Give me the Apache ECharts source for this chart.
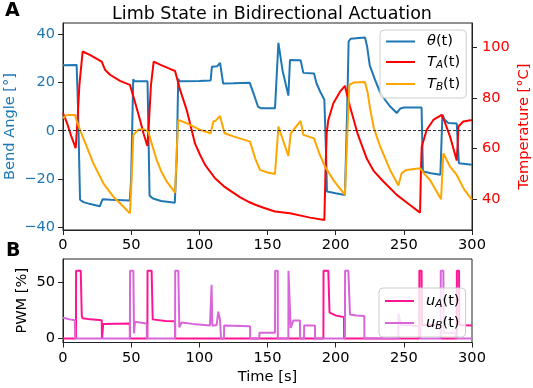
<!DOCTYPE html>
<html>
<head>
<meta charset="utf-8">
<script src="https://cdn.jsdelivr.net/npm/echarts@6/dist/echarts.min.js"></script>
<style>
    html,body{margin:0;padding:0;background:#fff;}
    #container{width:533px;height:388px;}
</style>
</head>
<body>
<div id="container"></div>
<script>
// time [s], value pairs
var thetaData = [[0,27],[10,27.2],[11,10],[12.5,-28.5],[15,-29.5],[20,-30.3],[27,-31.2],[28,-31.3],[29,-28.3],[35,-28.5],[49,-28.8],[50,-20],[51.5,21.3],[52.5,20.4],[62,20.4],[63.5,-26.8],[66,-28],[72,-29],[82,-29.7],[83.5,-10],[84.5,21.5],[85.5,20.4],[100,20.5],[108.3,20.8],[109.2,26.4],[113,26.6],[115.2,28],[117.5,19.5],[125,19.6],[137,19.8],[140,15],[143,10],[145,9.3],[155.5,9.3],[158,36.3],[161,25],[165.3,14.5],[166.5,29.2],[174.3,29.1],[176.3,23.9],[184.1,23.6],[186,19.5],[188.5,16.3],[191.7,12.8],[193,-10],[193.6,-25.1],[200,-25.8],[206.8,-26.5],[208.5,10],[209.5,36.9],[211,38],[221.5,38.5],[223,35],[225,27],[228.9,21],[232.5,16],[236.2,12.8],[240,10],[244.8,7.3],[246,6.8],[247.5,9.2],[250,9.6],[263,9.6],[264,-16.8],[270,-17.6],[276.8,-18.2],[278.3,6.6],[280,4.5],[282.6,3.2],[288.8,3],[290.4,-13.4],[300,-14]];
var tempAData = [[0,74],[3,70],[6,65],[9.3,60.1],[10.5,70],[12,85],[14.4,98.4],[20,97],[28.4,94.4],[30.8,91.2],[34.5,89.2],[41.8,86.8],[49.1,85.2],[50.4,84.5],[53,78],[56.5,71.3],[59,66],[61.9,61],[63,70],[64.5,85],[66.5,94.4],[72,93],[78.5,91.5],[82.2,90.7],[86,83],[90.7,75.3],[96.8,62],[100.5,57.5],[104.2,53.5],[111.5,48.2],[118,45],[123.7,42.9],[130,40.6],[135.9,38.9],[142,37.5],[148.2,36.3],[155.5,35],[166.5,34.3],[181.2,32.6],[191.7,31.7],[192.5,50],[193.4,66],[194.6,71.3],[198.3,77.9],[203.2,82.5],[206.8,84.8],[208.5,81],[210.5,76.6],[216,66],[222.8,56],[228,51],[235,46.9],[244.8,41.6],[254.5,37.6],[261.9,34.6],[262.5,50],[263.1,60.7],[266.8,67.4],[271.6,71.3],[277.8,73.3],[280,70.5],[283.9,64.7],[288.8,55.2],[289.5,62],[290,68.7],[293.6,70.7],[300,71.3]];
var tempBData = [[0,72],[2,73],[4,73.3],[8.8,73.3],[10,71],[12.5,67.4],[17.4,60.7],[22.2,54.2],[29.6,46.2],[36.9,40.9],[44.2,37],[49.1,34.3],[50.5,50],[51.6,65.4],[55.2,67.4],[58.9,67.6],[62.6,66.7],[65,62],[68.7,55.5],[72,51],[76.1,46.9],[82.2,42.5],[83.5,60],[84.6,71.3],[90.7,70],[100.5,67.4],[108.3,66],[110.3,70.7],[112,71],[115.2,72.9],[118.5,66],[125,64.8],[137.2,62.7],[141,56],[144.5,51.5],[150,50.5],[155.5,49.9],[158,68.7],[165.3,57],[167,66],[174.3,70.9],[176.3,65.4],[184.1,64],[188,58],[192.2,52.8],[198.3,47.5],[206.8,41.6],[208.5,65],[210,85.2],[213,86.1],[221.5,86.3],[223.5,82],[225.2,76],[228,68],[232.5,61],[239.9,51.5],[246,45.3],[248.4,50.2],[252,51.5],[261.9,52.2],[265,50],[269.2,47.5],[277.3,39.9],[279,58.1],[283.9,52.8],[288.8,49.5],[294,44],[300,39.6]];
var pwmAData = [[0,0],[9.5,0],[9.6,60],[13,60],[13.8,20],[14.4,17.9],[20,17],[28.4,16.3],[28.6,0],[29.3,0],[29.5,12.8],[40,13.2],[49,13.4],[49.1,0],[61.9,0],[62,60],[65,60],[65.8,17],[66.5,16.3],[75,15.6],[82.2,15.3],[82.3,0],[191,0],[191.1,60],[194.6,60],[195.5,23],[200,20.5],[206.1,19],[206.2,0],[261.3,0],[261.4,60],[263,60],[263.2,12],[277,11.5],[277.1,0],[288.8,0],[288.9,60],[290.5,60],[290.7,12],[300,11.6]];
var pwmBData = [[0,18.5],[5,17],[8.8,16.3],[8.9,0],[49.1,0],[49.2,60],[51.6,60],[52.1,4.6],[52.8,14.9],[55,14.5],[61.4,13.4],[61.5,0],[82.2,0],[82.3,60],[84.6,60],[85.3,9.9],[87,14.2],[95,13],[107.8,11.6],[109,47.6],[109.5,11.3],[112.7,12],[113.9,23.8],[115.2,16.3],[115.9,0],[118.1,0],[118.2,11.6],[137.2,11],[137.3,0],[144,0],[144.1,5.1],[155.5,5.1],[155.6,60],[157.5,60],[157.6,0],[165.3,0],[165.4,60],[166.5,60],[167,9.4],[169,16.1],[173.8,16],[173.9,0],[176.8,0],[176.9,11.6],[184.8,11.6],[184.9,0],[206.8,0],[206.9,60],[209.3,60],[210.5,21.4],[215,20.5],[221,19.9],[221.1,0],[246,0],[246.1,22],[248,12],[262,11],[262.1,0],[277,0],[277.1,60],[279,60],[279.2,5],[288,5],[288.1,0],[300,0]];

var angleTicks = [-40,-20,0,20,40];
var tempTicks = [40,60,80,100];
var pwmTicks = [0,50];

var font = 'DejaVu Sans';
var fs = 14.6;
var blue = '#1f77b4', red = '#ff0000', orange = '#ffa500', pink = '#ff1493', orchid = '#d966d9';

// legend labels with math-like italic / subscript
var legendText = {
    'theta':'{it|θ}{n|(t)}',
    'TA':'{it|T}{sub|A}{n|(t)}',
    'TB':'{it|T}{sub|B}{n|(t)}',
    'uA':'{it|u}{sub|A}{n|(t)}',
    'uB':'{it|u}{sub|B}{n|(t)}'
};
var legendRich = {
    n:{fontFamily:font,fontSize:fs,color:'#000',lineHeight:18},
    it:{fontFamily:font,fontSize:fs,fontStyle:'italic',color:'#000',lineHeight:18},
    sub:{fontFamily:font,fontSize:10.5,fontStyle:'italic',color:'#000',lineHeight:18,padding:[7,0,0,0]}
};

function minusSign(v){
    return String(v).replace('-','\u2212');
}

function valueAxis(grid, opts){
    var a = {
        type:'value',
        gridIndex:grid,
        splitLine:{show:false},
        nameMoveOverlap:false,
        axisLine:{show:true,onZero:false,lineStyle:{color:'#222',width:1}},
        axisTick:{show:true,inside:false,length:5,lineStyle:{color:'#222'}},
        axisLabel:{fontFamily:font,fontSize:fs,color:'#000',margin:8,formatter:minusSign},
        nameTextStyle:{fontFamily:font,fontSize:fs,color:'#000'}
    };
    for(var k in opts){
        if(typeof opts[k] === 'object' && a[k] && !Array.isArray(opts[k])){
            for(var j in opts[k]) a[k][j] = opts[k][j];
        } else {
            a[k] = opts[k];
        }
    }
    return a;
}

function legendBox(names, top, left){
    return {
        data:names,
        orient:'vertical', left:left, top:top,
        icon:'rect', itemWidth:29, itemHeight:2, itemGap:4,
        padding:[4,6,5,6],
        backgroundColor:'rgba(255,255,255,0.8)',
        borderColor:'#ccc', borderWidth:1, borderRadius:4,
        formatter:function(n){ return legendText[n]; },
        textStyle:{fontFamily:font,fontSize:fs,color:'#000',padding:[0,0,0,7],rich:legendRich}
    };
}

var mychart = echarts.init(document.getElementById('container'));
var option = {
    animation:false,
    backgroundColor:'#fff',
    textStyle:{fontFamily:font},
    title:{
        text:'Limb State in Bidirectional Actuation',
        left:267, top:0, textAlign:'center',
        textStyle:{fontFamily:font,fontSize:17.5,fontWeight:'normal',color:'#000'}
    },
    graphic:[
        {type:'text',left:5,top:2,style:{text:'A',font:'bold 19px "DejaVu Sans"',fill:'#000'}},
        {type:'text',left:6,top:242,style:{text:'B',font:'bold 19px "DejaVu Sans"',fill:'#000'}}
    ],
    grid:[
        {left:63,width:409,top:23,height:207,show:true,borderColor:'#222',borderWidth:1,
            containLabel:false,outerBoundsMode:'none'},
        {left:63,width:409,top:259,height:83.5,show:true,borderColor:'#222',borderWidth:1,
            containLabel:false,outerBoundsMode:'none'}
    ],
    legend:[
        legendBox(['theta','TA','TB'],30,380),
        legendBox(['uA','uB'],288,379)
    ],
    xAxis:[
        valueAxis(0,{min:0,max:300,interval:50}),
        valueAxis(1,{min:0,max:300,interval:50,name:'Time [s]',nameLocation:'middle',nameGap:27})
    ],
    yAxis:[
        valueAxis(0,{min:-41,max:44.5,position:'left',
            axisLabel:{color:blue,customValues:angleTicks},
            axisTick:{customValues:angleTicks},
            name:'Bend Angle [°]',nameLocation:'middle',nameGap:45,
            nameTextStyle:{color:blue}}),
        valueAxis(0,{min:27.7,max:109.7,position:'right',
            axisLabel:{color:red,customValues:tempTicks,margin:10},
            axisTick:{customValues:tempTicks},
            name:'Temperature [°C]',nameLocation:'middle',nameGap:44.5,
            nameTextStyle:{color:red}}),
        valueAxis(1,{min:-3.5,max:70.5,position:'left',
            axisLabel:{customValues:pwmTicks},
            axisTick:{customValues:pwmTicks},
            name:'PWM [%]',nameLocation:'middle',nameGap:33})
    ],
    series:[
        {
            name:'theta', type:'line', xAxisIndex:0, yAxisIndex:0,
            data:thetaData, symbol:'none', lineStyle:{color:blue,width:2}, itemStyle:{color:blue},
            markLine:{
                silent:true, symbol:['none','none'], label:{show:false},
                lineStyle:{color:'#333',width:1,type:[3,2]},
                data:[{yAxis:0}]
            }
        },
        {
            name:'TA', type:'line', xAxisIndex:0, yAxisIndex:1,
            data:tempAData, symbol:'none', lineStyle:{color:red,width:2}, itemStyle:{color:red}
        },
        {
            name:'TB', type:'line', xAxisIndex:0, yAxisIndex:1,
            data:tempBData, symbol:'none', lineStyle:{color:orange,width:2}, itemStyle:{color:orange}
        },
        {
            name:'uA', type:'line', xAxisIndex:1, yAxisIndex:2,
            data:pwmAData, symbol:'none', lineStyle:{color:pink,width:2}, itemStyle:{color:pink}
        },
        {
            name:'uB', type:'line', xAxisIndex:1, yAxisIndex:2,
            data:pwmBData, symbol:'none', lineStyle:{color:orchid,width:2}, itemStyle:{color:orchid}
        }
    ]
};
mychart.setOption(option);
</script>
</body>
</html>
